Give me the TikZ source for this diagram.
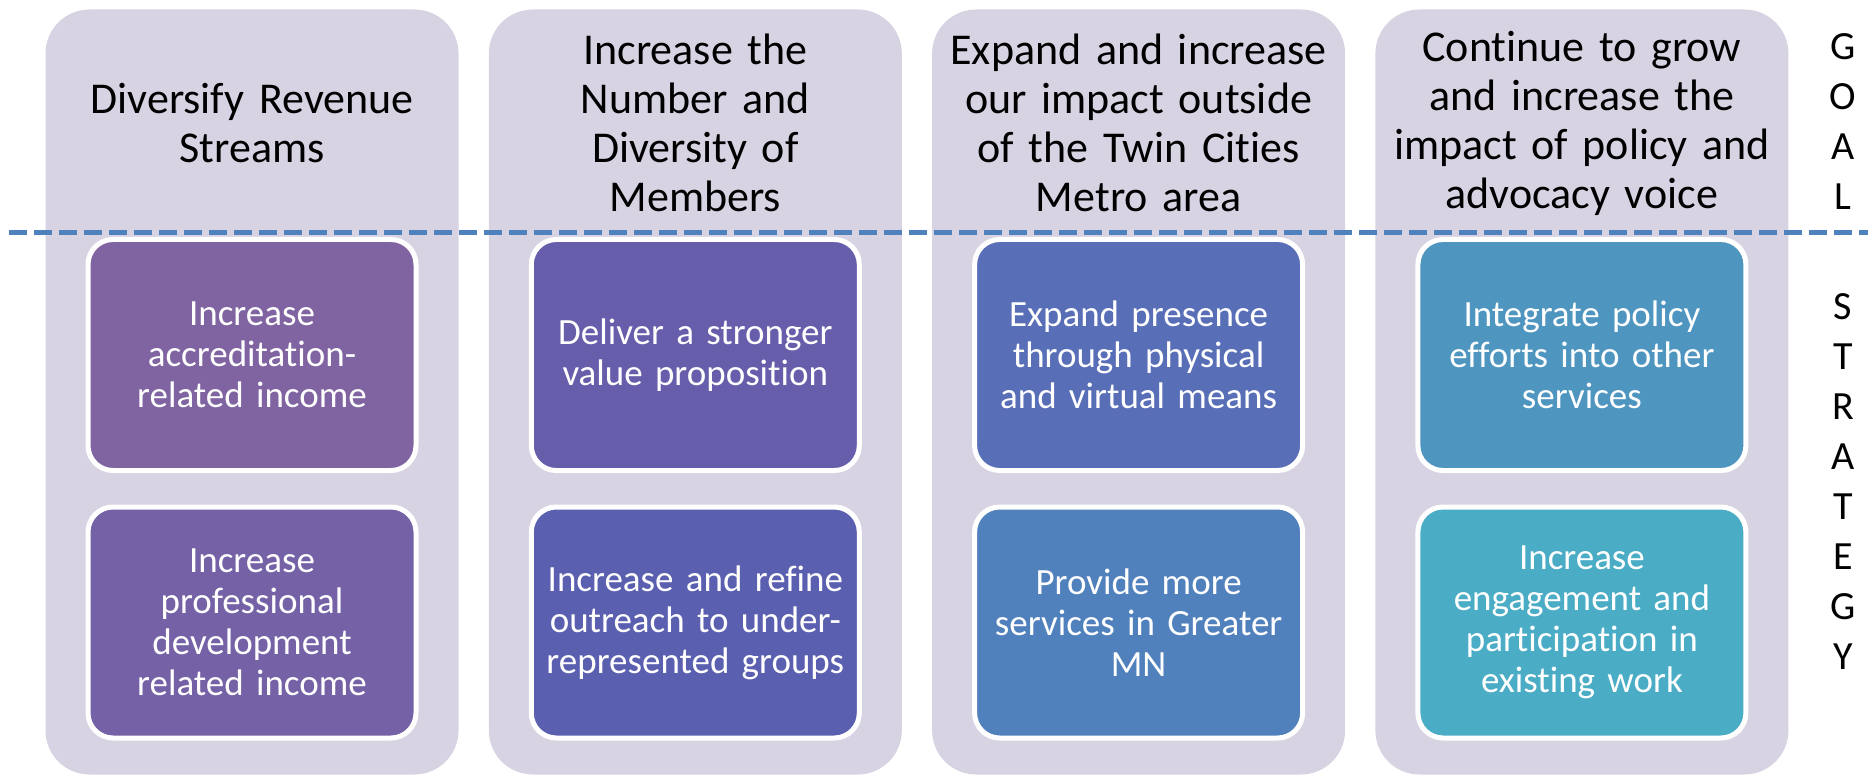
\documentclass[tikz,border=0pt]{standalone}
\usepackage{fontspec}
\setmainfont[Ligatures={NoCommon}]{Carlito}
\definecolor{colbg}{RGB}{216,211,227}
\definecolor{dashblue}{RGB}{79,129,189}
\definecolor{sa}{RGB}{128,100,162}
\definecolor{sb}{RGB}{117,97,166}
\definecolor{sc}{RGB}{103,94,171}
\definecolor{sd}{RGB}{90,95,175}
\definecolor{se}{RGB}{88,110,183}
\definecolor{sf}{RGB}{81,129,189}
\definecolor{sg}{RGB}{78,149,192}
\definecolor{sh}{RGB}{75,172,198}
\tikzset{
  colbox/.style={fill=colbg, draw=none, rounded corners=44pt, minimum width=413pt, minimum height=765pt, inner sep=0pt},
  goaltext/.style={align=center, text width=405pt, font=\fontsize{44}{49}\selectfont, text=black, inner sep=0pt},
  stratbox/.style={draw=white, line width=5pt, rounded corners=25pt, minimum width=328pt, minimum height=231pt, inner sep=0pt, align=center, text width=315pt, text=white, font=\fontsize{37}{41}\selectfont},
  sidelabel/.style={align=center, inner sep=0pt, text=black, font=\fontsize{40}{50}\selectfont},
  divider/.style={draw=dashblue, line width=5pt, dash pattern=on 18pt off 7pt}
}
\begin{document}
\begin{tikzpicture}[x=1pt,y=-1pt]
\useasboundingbox (0,0) rectangle (1868,775);
% columns
\node[colbox] (c1) at (252,392) {};
\node[colbox] (c2) at (695.3,392) {};
\node[colbox] (c3) at (1138.6,392) {};
\node[colbox] (c4) at (1581.9,392) {};
% goals
\node[goaltext] (g1) at (252,123) {Diversify Revenue\\Streams};
\node[goaltext] (g2) at (695.3,123) {Increase the\\Number and\\Diversity of\\Members};
\node[goaltext] (g3) at (1138.6,123) {Expand and increase\\our impact outside\\of the Twin Cities\\Metro area};
\node[goaltext] (g4) at (1581.9,123) {Continue to grow\\and increase the\\impact of policy and\\advocacy voice};
% divider
\coordinate (dl) at (9,233);
\coordinate (dr) at (1868,233);
\draw[divider] (dl) -- (dr);
% strategies
\node[stratbox, fill=sa] (s11) at (252,355) {Increase\\accreditation-\\related income};
\node[stratbox, fill=sb] (s12) at (252,622.5) {Increase\\professional\\development\\related income};
\node[stratbox, fill=sc] (s21) at (695.3,355) {Deliver a stronger\\value proposition};
\node[stratbox, fill=sd] (s22) at (695.3,622.5) {Increase and refine\\outreach to under-\\represented groups};
\node[stratbox, fill=se] (s31) at (1138.6,355) {Expand presence\\through physical\\and virtual means};
\node[stratbox, fill=sf] (s32) at (1138.6,622.5) {Provide more\\services in Greater\\MN};
\node[stratbox, fill=sg] (s41) at (1581.9,355) {Integrate policy\\efforts into other\\services};
\node[stratbox, fill=sh] (s42) at (1581.9,622.5) {Increase\\engagement and\\participation in\\existing work};
% side labels
\node[sidelabel] (goal) at (1843,122) {G\\O\\A\\L};
\node[sidelabel] (strategy) at (1843,482) {S\\T\\R\\A\\T\\E\\G\\Y};
\end{tikzpicture}
\end{document}
